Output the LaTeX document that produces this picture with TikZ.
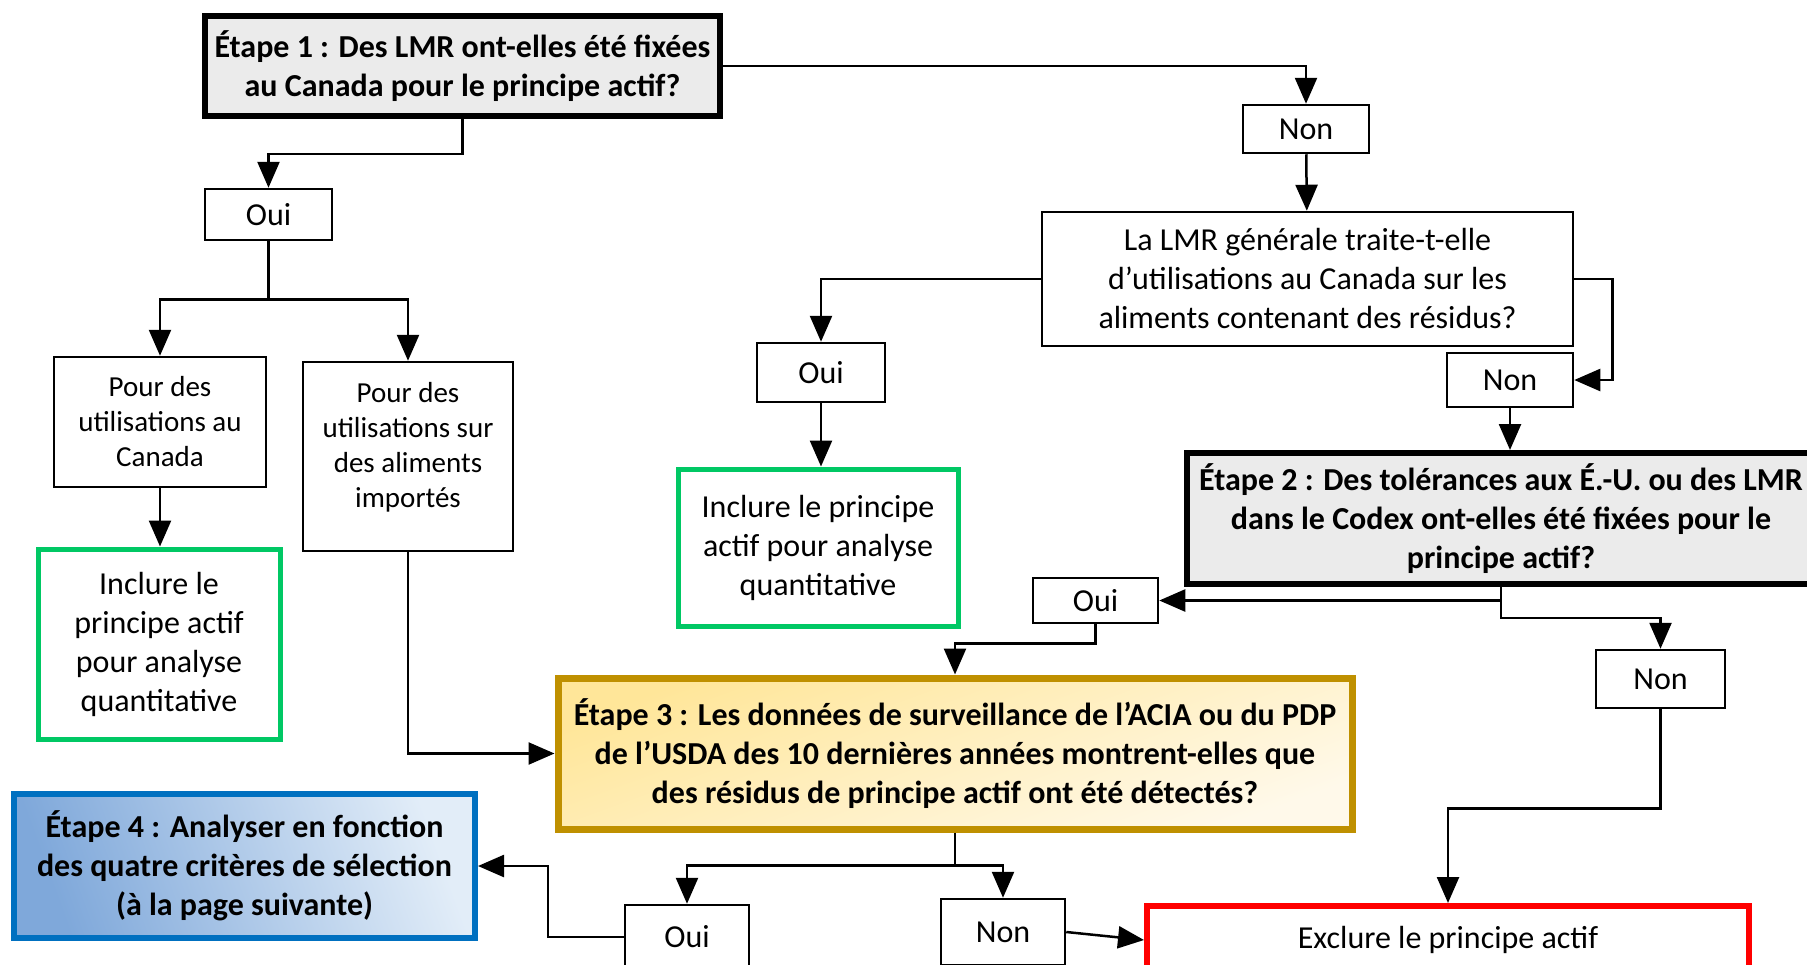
\documentclass[tikz,border=0pt]{standalone}
\usepackage{fontspec}
\setmainfont{Carlito}
\usetikzlibrary{arrows.meta}

\definecolor{grisfond}{HTML}{EBEBEB}
\definecolor{vertcadre}{HTML}{00C864}
\definecolor{orcadre}{HTML}{BF9000}
\definecolor{orhaut}{HTML}{FFE699}
\definecolor{orbas}{HTML}{FFF9EA}
\definecolor{bleucadre}{HTML}{0070C0}
\definecolor{bleuhaut}{HTML}{7FA8DA}
\definecolor{bleubas}{HTML}{E2EDF8}

\newcommand{\policeDiag}{\fontsize{32}{39}\selectfont}
\newcommand{\policeUsage}{\fontsize{29}{35}\selectfont}

\tikzset{
  boite/.style={draw, line width=2.5pt, align=center, inner sep=3pt, font=\policeDiag},
  usage/.style={boite, font=\policeUsage},
  etape/.style={boite, line width=5.5pt, fill=grisfond, font=\policeDiag\bfseries},
  inclure/.style={boite, draw=vertcadre, line width=5pt},
  fleche/.style={line width=2.5pt, -{Triangle[width=22pt,length=26pt]}},
  trait/.style={line width=2.5pt}
}

\begin{document}
\begin{tikzpicture}[x=1pt, y=-1pt]
    \useasboundingbox (0,0) rectangle (1807,964);

    % etape 1
    \node[etape, minimum width=515pt, minimum height=100pt] (s1) at (462.5,66)
        {Étape 1 : Des LMR ont-elles été fixées\\au Canada pour le principe actif?};
    \node[boite, minimum width=127pt, minimum height=51pt] (oui1) at (268.5,214.5) {Oui};
    \node[usage, minimum width=212pt, minimum height=130pt] (can) at (160,422)
        {Pour des\\utilisations au\\Canada};
    \node[usage, minimum width=210pt, minimum height=189pt] (imp) at (408,456.5)
        {Pour des\\utilisations sur\\des aliments\\importés\\[-12pt]};
    \node[inclure, minimum width=242pt, minimum height=190pt] (incl1) at (159,644)
        {Inclure le\\principe actif\\pour analyse\\quantitative};

    \node[boite, minimum width=126pt, minimum height=48pt] (non1) at (1306,129) {Non};
    \node[boite, minimum width=531pt, minimum height=134pt] (lmr) at (1307.5,279)
        {La LMR générale traite-t-elle\\d’utilisations au Canada sur les\\aliments contenant des résidus?};
    \node[boite, minimum width=128pt, minimum height=59pt] (oui2) at (821,372.5) {Oui};
    \node[inclure, minimum width=280pt, minimum height=157pt] (incl2) at (818,547.5)
        {Inclure le principe\\actif pour analyse\\quantitative};
    \node[boite, minimum width=126pt, minimum height=54pt] (non2) at (1510,380) {Non};

    % etape 2
    \node[etape, line width=6pt, minimum width=628pt, minimum height=131pt] (s2) at (1501,518.5)
        {Étape 2 : Des tolérances aux É.-U. ou des LMR\\dans le Codex ont-elles été fixées pour le\\principe actif?};
    \node[boite, minimum width=125pt, minimum height=45pt] (oui3) at (1095.5,600.5) {Oui};
    \node[boite, minimum width=129pt, minimum height=58pt] (non3) at (1660.5,679) {Non};

    % etape 3
    \node[boite, draw=orcadre, line width=7pt, top color=orhaut, bottom color=orbas, shading angle=20,
          font=\policeDiag\bfseries, minimum width=794pt, minimum height=151pt] (s3) at (955,753.5)
        {Étape 3 : Les données de surveillance de l’ACIA ou du PDP\\de l’USDA des 10 dernières années montrent-elles que\\des résidus de principe actif ont été détectés?};
    \node[boite, minimum width=124pt, minimum height=64pt] (oui4) at (687,937) {Oui};
    \node[boite, minimum width=124pt, minimum height=66pt] (non4) at (1003,932) {Non};
    \node[boite, draw=red, line width=6pt, minimum width=602pt, minimum height=68pt] (excl) at (1448,940)
        {Exclure le principe actif};

    % etape 4
    \node[boite, draw=bleucadre, line width=6pt, left color=bleuhaut, right color=bleubas, shading angle=110,
          font=\policeDiag\bfseries, minimum width=461pt, minimum height=144pt] (s4) at (244.5,866)
        {Étape 4 : Analyser en fonction\\des quatre critères de sélection\\(à la page suivante)};

    % fleches
    \draw[fleche] (s1.east) -| (non1.north);
    \draw[fleche] (non1) -- (lmr);
    \draw[fleche] (lmr.west) -| (oui2.north);
    \draw[fleche] (oui2.south) -- (oui2.south |- incl2.north);
    \draw[fleche] (lmr.east) -- ++(38,0) |- (non2.east);
    \draw[fleche] (non2.south) -- (non2.south |- s2.north);
    \draw[fleche] (s2.south) |- (oui3.east);
    \draw[fleche] (s2.south) -- ++(0,31) -| (non3.north);
    \draw[fleche] (oui3.south) -- ++(0,19) -| (s3.north);
    \draw[fleche] (non3.south) -- ++(0,99) -| (excl.north);

    \draw[fleche] (s1.south) -- ++(0,35) -| (oui1.north);
    \draw[trait] (oui1.south) -- ++(0,58) coordinate (b1);
    \draw[fleche] (b1) -| (can.north);
    \draw[fleche] (b1) -| (imp.north);
    \draw[fleche] (can.south) -- (can.south |- incl1.north);
    \draw[fleche] (imp.south) |- (s3.west);

    \draw[trait] (s3.south) -- ++(0,33) coordinate (b3);
    \draw[fleche] (b3) -| (oui4.north);
    \draw[fleche] (b3) -| (non4.north);
    \draw[fleche] (oui4.west) -- ++(-76,0) |- (s4.east);
    \draw[fleche] (non4.east) -- (excl.west);
\end{tikzpicture}
\end{document}
